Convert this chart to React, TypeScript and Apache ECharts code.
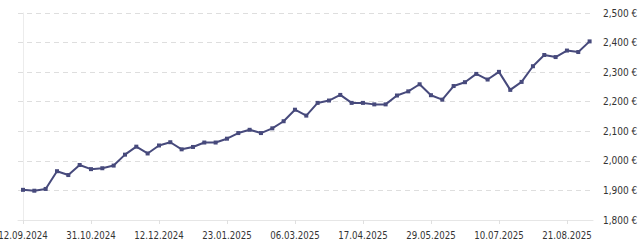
import React, { useEffect, useRef } from "react";
import * as echarts from "echarts";

const tickLabels = [
  "12.09.2024",
  "31.10.2024",
  "12.12.2024",
  "23.01.2025",
  "06.03.2025",
  "17.04.2025",
  "29.05.2025",
  "10.07.2025",
  "21.08.2025",
];
const tickIndexes = [0, 6, 12, 18, 24, 30, 36, 42, 48];

const prices = [
  1902, 1899, 1905, 1965, 1952, 1986, 1972, 1975, 1984, 2021,
  2048, 2025, 2052, 2063, 2039, 2047, 2062, 2062, 2075, 2094,
  2105, 2094, 2110, 2134, 2173, 2153, 2196, 2204, 2223, 2196,
  2196, 2191, 2191, 2221, 2235, 2259, 2222, 2207, 2253, 2266,
  2294, 2275, 2301, 2240, 2267, 2320, 2358, 2351, 2373, 2368,
  2404,
];

const yTicks = [1800, 1900, 2000, 2100, 2200, 2300, 2400, 2500];

const FONT = "'DejaVu Sans Condensed', 'DejaVu Sans', sans-serif";

export default function App() {
  const ref = useRef<HTMLDivElement>(null);
  useEffect(() => {
    if (!ref.current) return;
    const chart = echarts.init(ref.current, undefined, { renderer: "svg" });
    chart.setOption({
      animation: false,
      backgroundColor: "#ffffff",
      grid: {
        left: 18,
        right: 47,
        top: 13,
        bottom: 28,
        containLabel: false,
        outerBoundsMode: "none",
      },
      xAxis: {
        type: "value",
        min: -0.44,
        max: 50.3,
        splitLine: { show: false },
        axisLine: { show: true, lineStyle: { color: "#e6e6e6", width: 1 } },
        axisTick: {
          show: true,
          length: 4,
          lineStyle: { color: "#e0e0e0" },
          customValues: tickIndexes,
        },
        axisLabel: {
          customValues: tickIndexes,
          margin: 10,
          color: "#333333",
          fontSize: 9.6,
          fontFamily: FONT,
          hideOverlap: false,
          formatter: (v: number) => tickLabels[tickIndexes.indexOf(Math.round(v))] ?? "",
        },
      },
      yAxis: {
        type: "value",
        position: "right",
        min: yTicks[0],
        max: yTicks[yTicks.length - 1],
        interval: 100,
        axisLine: { show: true, lineStyle: { color: "#ececec", width: 1 } },
        axisTick: { show: false },
        splitLine: {
          show: true,
          lineStyle: { color: "#dedede", type: [5, 4], width: 1 },
        },
        axisLabel: {
          margin: 10,
          color: "#333333",
          fontSize: 10,
          fontFamily: FONT,
          formatter: (v: number) => v.toLocaleString("en-US") + " €",
        },
      },
      series: [
        {
          type: "line",
          data: prices.map((p, i) => [i, p]),
          symbol: "rect",
          symbolSize: 4,
          showSymbol: true,
          lineStyle: { color: "#474a7c", width: 2 },
          itemStyle: { color: "#474a7c" },
        },
      ],
    });
    return () => chart.dispose();
  }, []);
  return (
    <div
      ref={ref}
      style={{ width: 640, height: 248, position: "absolute", left: 0, top: 0 }}
    />
  );
}
